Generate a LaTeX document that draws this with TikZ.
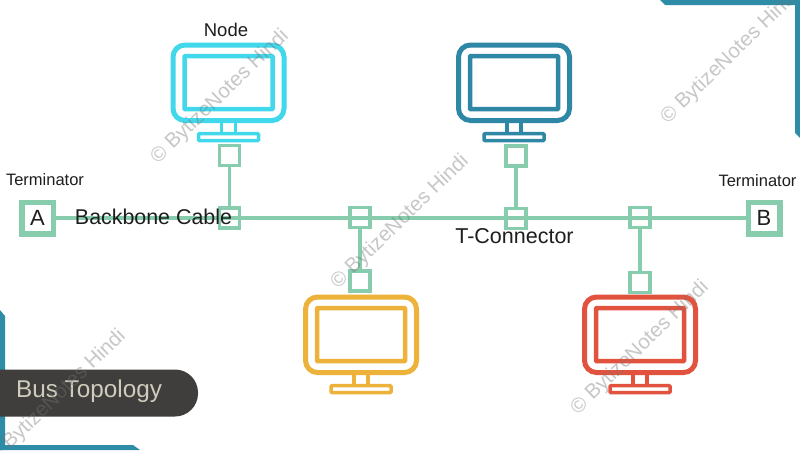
\documentclass[tikz,border=0pt]{standalone}
\usepackage{fontspec}
\setmainfont{Liberation Sans}
\definecolor{cablec}{HTML}{88CCAE}
\definecolor{cyanc}{HTML}{42D8EC}
\definecolor{tealc}{HTML}{2F87A6}
\definecolor{yellowc}{HTML}{EDB23A}
\definecolor{redc}{HTML}{E2533F}
\definecolor{cornerc}{HTML}{2E8CA6}
\definecolor{pillc}{HTML}{3F3E3C}
\definecolor{pilltxt}{HTML}{CFCBBD}
\definecolor{inkc}{HTML}{1E1E1E}
\newcommand{\fsz}[1]{\fontsize{#1}{#1}\selectfont}
\tikzset{
  x=1pt,y=-1pt,
  tconn/.style={draw=cablec,line width=3.4pt,minimum size=20pt,inner sep=0pt,outer sep=0pt},
  term/.style={draw=cablec,line width=5.5pt,minimum size=31.5pt,inner sep=0pt,outer sep=0pt,font=\fsz{22},text=inkc},
  cable/.style={draw=cablec,line width=4.5pt},
  drop/.style={draw=cablec,line width=3.4pt},
  lab/.style={text=inkc,inner sep=0pt},
  wmark/.style={text=black!55,text opacity=0.4,inner sep=0pt,rotate=44,font=\fsz{20.5}},
  corner/.style={fill=cornerc,draw=none},
  pics/monitor/.style={code={
    \draw[#1,line width=5pt,rounded corners=12pt] (-55.5,-65) rectangle (55.5,10.5);
    \draw[#1,line width=4.5pt,rounded corners=0.8pt] (-44,-54) rectangle (44,-0.8);
    \draw[#1,line width=3.5pt] (-7,10) -- (-7,23) (7,10) -- (7,23);
    \draw[#1,line width=3.5pt,rounded corners=0.8pt] (-30,23.7) rectangle (30,30.5);
  }}
}
\begin{document}
\begin{tikzpicture}
\useasboundingbox (0,0) rectangle (800,450);
\fill[white] (0,0) rectangle (800,450);
% corners
\fill[corner] (660,0) -- (800,0) -- (800,138) -- (795,133) -- (795,5) -- (665,5) -- cycle;
\fill[corner] (0,310) -- (5,316) -- (5,445) -- (133,445) -- (140,450) -- (0,450) -- cycle;
% monitors
\pic at (228.5,110) {monitor=cyanc};
\pic at (514,110) {monitor=tealc};
\pic at (361,362) {monitor=yellowc};
\pic at (640,362) {monitor=redc};
% terminators
\node[term] (A) at (37.5,218) {A};
\node[term] (B) at (764,218) {B};
% T connectors
\node[tconn] (c1) at (229.5,218) {};
\node[tconn] (c2) at (360,217.5) {};
\node[tconn] (c3) at (516,218.5) {};
\node[tconn] (c4) at (640,217.5) {};
\node[tconn] (n1) at (229.5,155.5) {};
\node[tconn] (n2) at (360,281) {};
\node[tconn] (n3) at (516,156) {};
\node[tconn] (n4) at (640,282.5) {};
\draw[cable] (A) -- (B);
\draw[drop] (n1) -- (c1);
\draw[drop] (c2) -- (n2);
\draw[drop] (n3) -- (c3);
\draw[drop] (c4) -- (n4);
% labels
\node[lab,font=\fsz{18.5}] (lnode) at (226,30) {Node};
\node[lab,font=\fsz{16.5}] (lta) at (45,180) {Terminator};
\node[lab,font=\fsz{16.5}] (ltb) at (757.5,181) {Terminator};
\node[lab,font=\fsz{21.4}] (lbb) at (153.5,217) {Backbone Cable};
\node[lab,font=\fsz{21.5}] (ltc) at (514.5,236) {T-Connector};
% pill
\fill[pillc,rounded corners=23pt] (-40,369.5) rectangle (198,416.5);
\node[inner sep=0pt,text=pilltxt,font=\fsz{24.3}] (ttl) at (89,391.5) {Bus Topology};
% watermarks
\node[wmark] (w1) at (220,97) {© BytizeNotes Hindi};
\node[wmark] (w2) at (400,222) {© BytizeNotes Hindi};
\node[wmark] (w3) at (640,348) {© BytizeNotes Hindi};
\node[wmark] (w4) at (730,57) {© BytizeNotes Hindi};
\node[wmark] (w5) at (57,397) {© BytizeNotes Hindi};
\end{tikzpicture}
\end{document}
